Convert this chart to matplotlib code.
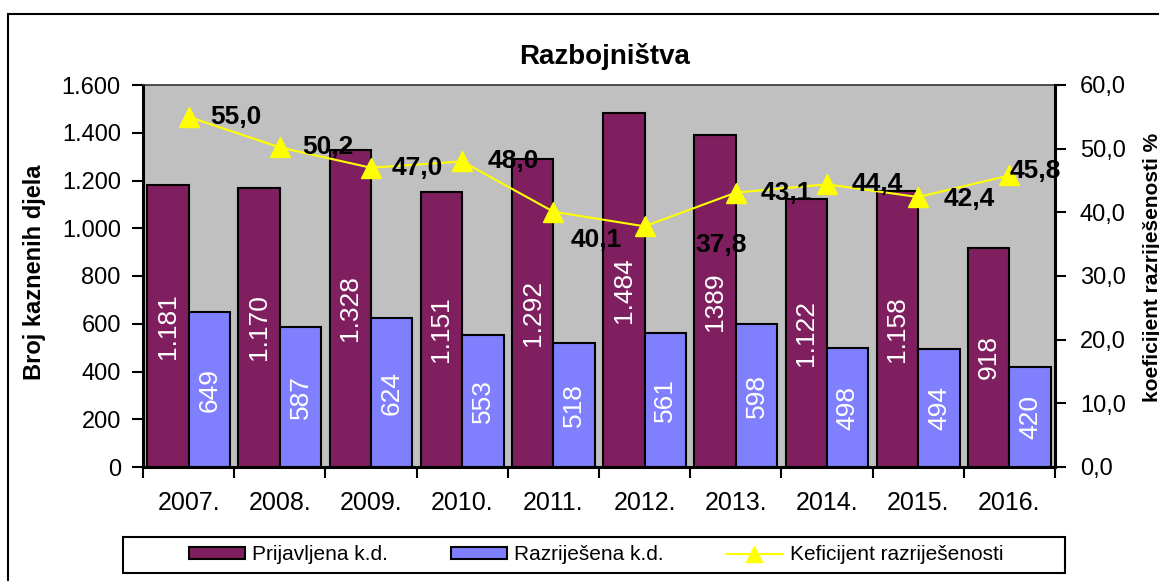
import matplotlib.pyplot as plt
from matplotlib.patches import Rectangle
from matplotlib.lines import Line2D
from matplotlib.ticker import FuncFormatter
import numpy as np

plt.rcParams['font.family'] = ['Liberation Sans', 'DejaVu Sans']

years = ['2007.', '2008.', '2009.', '2010.', '2011.',
         '2012.', '2013.', '2014.', '2015.', '2016.']
prijavljena = [1181, 1170, 1328, 1151, 1292, 1484, 1389, 1122, 1158, 918]
prijavljena_txt = ['1.181', '1.170', '1.328', '1.151', '1.292',
                   '1.484', '1389', '1.122', '1.158', '918']
razrijesena = [649, 587, 624, 553, 518, 561, 598, 498, 494, 420]
koeficijent = [55.0, 50.2, 47.0, 48.0, 40.1, 37.8, 43.1, 44.4, 42.4, 45.8]

# label offsets in pixels (dx, dy) for the line labels
lbl_off = [(22, 0), (22, 0), (21, 0), (25, 0), (17, -28),
           (51, -19), (25, 0), (25, 0), (25, -2), (0, 4)]

purple = '#7F1F5F'
blue = '#8080FF'
W, H = 1159, 581

fig = plt.figure(figsize=(W / 100, H / 100), dpi=100)
fig.patches.append(Rectangle((8 / W, -0.1), 1.2, (H - 14) / H + 0.1,
                             transform=fig.transFigure, fill=False,
                             edgecolor='black', linewidth=1.5))

ax = fig.add_axes([143 / W, (H - 467) / H, 912 / W, 382 / H])
ax.set_facecolor('#C0C0C0')
x = np.arange(len(years))
w = 1 / 2.2
ax.bar(x - w / 2, prijavljena, w, color=purple, edgecolor='black', linewidth=1.5)
ax.bar(x + w / 2, razrijesena, w, color=blue, edgecolor='black', linewidth=1.5)

for i in range(len(years)):
    ax.text(x[i] - w / 2, prijavljena[i] / 2, prijavljena_txt[i], rotation=90,
            ha='center', va='center', color='white', fontsize=19)
    ax.text(x[i] + w / 2, razrijesena[i] / 2, str(razrijesena[i]), rotation=90,
            ha='center', va='center', color='white', fontsize=19)

ax.set_xlim(-0.5, len(years) - 0.5)
ax.set_ylim(0, 1600)
ax.set_yticks(range(0, 1601, 200))
ax.yaxis.set_major_formatter(FuncFormatter(lambda v, p: f'{int(v):,}'.replace(',', '.')))
ax.set_xticks(np.arange(-0.5, len(years), 1))
ax.set_xticklabels([])
ax.set_xticks(x, minor=True)
ax.set_xticklabels(years, minor=True)
ax.tick_params(axis='x', which='minor', length=0, pad=17, labelsize=18)
ax.tick_params(axis='x', which='major', length=8, width=1.5, direction='out')
ax.tick_params(axis='y', length=8, width=1.5, direction='out', labelsize=17, pad=8)
for s in ['left', 'bottom']:
    ax.spines[s].set_linewidth(2.2)
ax.spines['top'].set_color('#333333')
ax.spines['top'].set_linewidth(1.2)
fig.text(35 / W, (H - 272) / H, 'Broj kaznenih djela', rotation=90,
         ha='center', va='center', fontsize=17, fontweight='bold')

ax2 = ax.twinx()
ax2.plot(x, koeficijent, color='#FFFF00', linewidth=1.5, marker='^',
         markersize=14, markeredgecolor='#FFFF00')
for i, v in enumerate(koeficijent):
    ax2.annotate(f'{v:.1f}'.replace('.', ','), (x[i], v), xytext=lbl_off[i],
                 textcoords='offset pixels', ha='left', va='center',
                 fontsize=19, fontweight='bold')
ax2.set_ylim(0, 60)
ax2.set_yticks(range(0, 61, 10))
ax2.yaxis.set_major_formatter(FuncFormatter(lambda v, p: f'{v:.1f}'.replace('.', ',')))
ax2.tick_params(axis='y', length=8, width=1.5, direction='out', labelsize=17, pad=10)
ax2.spines['right'].set_linewidth(2.2)
for s in ['left', 'bottom', 'top']:
    ax2.spines[s].set_visible(False)

fig.text(1152 / W, (H - 267) / H, 'koeficijent razriješenosti %', rotation=90,
         ha='center', va='center', fontsize=15, fontweight='bold')
fig.text(605 / W, (H - 57) / H, 'Razbojništva', ha='center', va='center',
         fontsize=20, fontweight='bold')

# legend box drawn separately (wide inner padding)
fig.patches.append(Rectangle((123 / W, (H - 573) / H), 942 / W, 36 / H,
                             transform=fig.transFigure, fill=True, facecolor='white',
                             edgecolor='black', linewidth=1.5, zorder=5))
handles = [Rectangle((0, 0), 1, 1, facecolor=purple, edgecolor='black', linewidth=1.5),
           Rectangle((0, 0), 1, 1, facecolor=blue, edgecolor='black', linewidth=1.5),
           Line2D([], [], color='#FFFF00', linewidth=1.5, marker='^', markersize=12)]
leg = fig.legend(handles, ['Prijavljena k.d.', 'Razriješena k.d.', 'Keficijent razriješenosti'],
                 loc='center', bbox_to_anchor=(596 / W, (H - 555) / H),
                 ncol=3, fontsize=15, frameon=False,
                 handlelength=2.7, handleheight=0.45,
                 columnspacing=3.0, borderpad=0.2, handletextpad=0.35)
leg.set_zorder(6)

fig.savefig('out.png', dpi=100)
